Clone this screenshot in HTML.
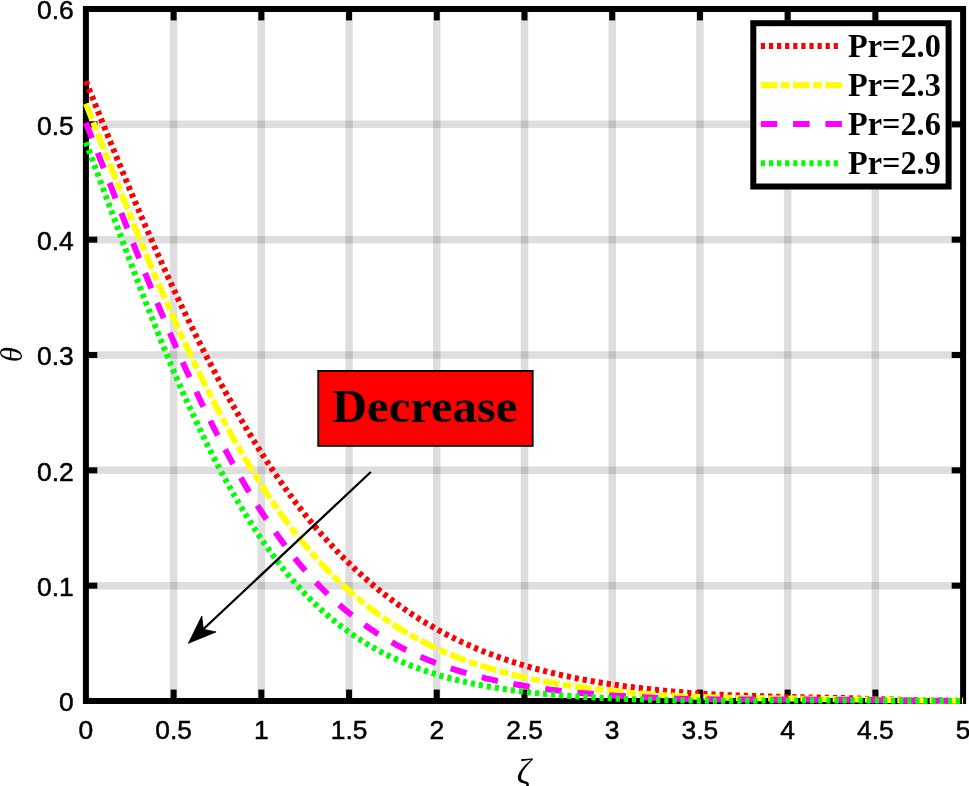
<!DOCTYPE html>
<html lang="en"><head><meta charset="utf-8"><title>Temperature profile for Pr</title>
<style>html,body{margin:0;padding:0;background:#fff;}svg{display:block;}.tk{font-family:"Liberation Sans",Arial,Helvetica,sans-serif;font-size:26.4px;fill:#000;stroke:#000;stroke-width:0.5px;}.lg{font-family:"Liberation Serif","Times New Roman",Times,serif;font-weight:bold;font-size:32.8px;fill:#000;}.dc{font-family:"Liberation Serif","Times New Roman",Times,serif;font-weight:bold;font-size:46.7px;fill:#000;}.ax{font-family:"Liberation Serif","Times New Roman",Times,serif;font-style:italic;font-size:30px;fill:#000;}</style></head><body>
<svg width="969" height="786" viewBox="0 0 969 786">
<rect x="0" y="0" width="969" height="786" fill="#fff"/>
<g stroke="#000" stroke-opacity="0.13" stroke-width="7.5" fill="none">
<line x1="173.62" y1="9.0" x2="173.62" y2="701.0"/>
<line x1="261.34" y1="9.0" x2="261.34" y2="701.0"/>
<line x1="349.06" y1="9.0" x2="349.06" y2="701.0"/>
<line x1="436.78" y1="9.0" x2="436.78" y2="701.0"/>
<line x1="524.50" y1="9.0" x2="524.50" y2="701.0"/>
<line x1="612.22" y1="9.0" x2="612.22" y2="701.0"/>
<line x1="699.94" y1="9.0" x2="699.94" y2="701.0"/>
<line x1="787.66" y1="9.0" x2="787.66" y2="701.0"/>
<line x1="875.38" y1="9.0" x2="875.38" y2="701.0"/>
<line x1="85.9" y1="585.67" x2="963.1" y2="585.67"/>
<line x1="85.9" y1="470.33" x2="963.1" y2="470.33"/>
<line x1="85.9" y1="355.00" x2="963.1" y2="355.00"/>
<line x1="85.9" y1="239.67" x2="963.1" y2="239.67"/>
<line x1="85.9" y1="124.33" x2="963.1" y2="124.33"/>
</g>
<g stroke="#000" stroke-width="6" fill="none">
<line x1="173.62" y1="701.0" x2="173.62" y2="689.6"/>
<line x1="173.62" y1="9.0" x2="173.62" y2="20.4"/>
<line x1="261.34" y1="701.0" x2="261.34" y2="689.6"/>
<line x1="261.34" y1="9.0" x2="261.34" y2="20.4"/>
<line x1="349.06" y1="701.0" x2="349.06" y2="689.6"/>
<line x1="349.06" y1="9.0" x2="349.06" y2="20.4"/>
<line x1="436.78" y1="701.0" x2="436.78" y2="689.6"/>
<line x1="436.78" y1="9.0" x2="436.78" y2="20.4"/>
<line x1="524.50" y1="701.0" x2="524.50" y2="689.6"/>
<line x1="524.50" y1="9.0" x2="524.50" y2="20.4"/>
<line x1="612.22" y1="701.0" x2="612.22" y2="689.6"/>
<line x1="612.22" y1="9.0" x2="612.22" y2="20.4"/>
<line x1="699.94" y1="701.0" x2="699.94" y2="689.6"/>
<line x1="699.94" y1="9.0" x2="699.94" y2="20.4"/>
<line x1="787.66" y1="701.0" x2="787.66" y2="689.6"/>
<line x1="787.66" y1="9.0" x2="787.66" y2="20.4"/>
<line x1="875.38" y1="701.0" x2="875.38" y2="689.6"/>
<line x1="875.38" y1="9.0" x2="875.38" y2="20.4"/>
<line x1="85.9" y1="585.67" x2="97.30000000000001" y2="585.67"/>
<line x1="963.1" y1="585.67" x2="951.7" y2="585.67"/>
<line x1="85.9" y1="470.33" x2="97.30000000000001" y2="470.33"/>
<line x1="963.1" y1="470.33" x2="951.7" y2="470.33"/>
<line x1="85.9" y1="355.00" x2="97.30000000000001" y2="355.00"/>
<line x1="963.1" y1="355.00" x2="951.7" y2="355.00"/>
<line x1="85.9" y1="239.67" x2="97.30000000000001" y2="239.67"/>
<line x1="963.1" y1="239.67" x2="951.7" y2="239.67"/>
<line x1="85.9" y1="124.33" x2="97.30000000000001" y2="124.33"/>
<line x1="963.1" y1="124.33" x2="951.7" y2="124.33"/>
<rect x="85.9" y="9.0" width="877.20" height="692.00"/>
</g>
<g fill="none" stroke-width="6" stroke-linejoin="round">
<path stroke="#ff0000" stroke-dasharray="4.2 3.9" d="M85.9 81.1L89.4 89.9L92.9 98.7L96.4 107.5L99.9 116.2L103.4 124.9L107.0 133.6L110.5 142.3L114.0 150.9L117.5 159.5L121.0 168.0L124.5 176.5L128.0 184.9L131.5 193.3L135.0 201.6L138.5 209.9L142.0 218.1L145.5 226.3L149.1 234.4L152.6 242.4L156.1 250.4L159.6 258.3L163.1 266.1L166.6 273.8L170.1 281.5L173.6 289.1L177.1 296.6L180.6 304.1L184.1 311.4L187.7 318.7L191.2 325.9L194.7 333.0L198.2 340.1L201.7 347.0L205.2 353.9L208.7 360.7L212.2 367.4L215.7 374.0L219.2 380.6L222.7 387.1L226.3 393.5L229.8 399.8L233.3 406.0L236.8 412.2L240.3 418.2L243.8 424.2L247.3 430.1L250.8 435.9L254.3 441.6L257.8 447.3L261.3 452.8L264.8 458.3L268.4 463.7L271.9 469.0L275.4 474.2L278.9 479.3L282.4 484.3L285.9 489.3L289.4 494.1L292.9 498.9L296.4 503.5L299.9 508.1L303.4 512.6L307.0 517.0L310.5 521.3L314.0 525.5L317.5 529.6L321.0 533.7L324.5 537.6L328.0 541.5L331.5 545.3L335.0 549.1L338.5 552.8L342.0 556.4L345.6 559.9L349.1 563.3L352.6 566.7L356.1 570.0L359.6 573.3L363.1 576.5L366.6 579.6L370.1 582.6L373.6 585.6L377.1 588.5L380.6 591.4L384.1 594.1L387.7 596.9L391.2 599.5L394.7 602.2L398.2 604.7L401.7 607.2L405.2 609.6L408.7 612.0L412.2 614.4L415.7 616.6L419.2 618.9L422.7 621.0L426.3 623.2L429.8 625.2L433.3 627.2L436.8 629.2L440.3 631.2L443.8 633.0L447.3 634.9L450.8 636.7L454.3 638.4L457.8 640.1L461.3 641.8L464.9 643.4L468.4 645.0L471.9 646.5L475.4 648.1L478.9 649.5L482.4 651.0L485.9 652.4L489.4 653.7L492.9 655.0L496.4 656.3L499.9 657.6L503.4 658.8L507.0 660.0L510.5 661.2L514.0 662.3L517.5 663.4L521.0 664.5L524.5 665.6L528.0 666.6L531.5 667.6L535.0 668.6L538.5 669.5L542.0 670.4L545.6 671.3L549.1 672.2L552.6 673.0L556.1 673.9L559.6 674.7L563.1 675.4L566.6 676.2L570.1 676.9L573.6 677.7L577.1 678.4L580.6 679.0L584.1 679.7L587.7 680.3L591.2 681.0L594.7 681.6L598.2 682.2L601.7 682.8L605.2 683.3L608.7 683.9L612.2 684.4L615.7 684.9L619.2 685.4L622.7 685.9L626.3 686.4L629.8 686.8L633.3 687.3L636.8 687.7L640.3 688.1L643.8 688.5L647.3 688.9L650.8 689.3L654.3 689.7L657.8 690.1L661.3 690.4L664.9 690.8L668.4 691.1L671.9 691.4L675.4 691.7L678.9 692.0L682.4 692.3L685.9 692.6L689.4 692.9L692.9 693.1L696.4 693.3L699.9 693.6L703.4 693.8L707.0 694.0L710.5 694.2L714.0 694.4L717.5 694.6L721.0 694.7L724.5 694.9L728.0 695.1L731.5 695.2L735.0 695.4L738.5 695.5L742.0 695.6L745.6 695.8L749.1 695.9L752.6 696.0L756.1 696.1L759.6 696.2L763.1 696.3L766.6 696.4L770.1 696.5L773.6 696.6L777.1 696.7L780.6 696.8L784.2 696.9L787.7 696.9L791.2 697.0L794.7 697.1L798.2 697.2L801.7 697.2L805.2 697.3L808.7 697.4L812.2 697.5L815.7 697.5L819.2 697.6L822.7 697.7L826.3 697.8L829.8 697.8L833.3 697.9L836.8 698.0L840.3 698.1L843.8 698.1L847.3 698.2L850.8 698.3L854.3 698.4L857.8 698.5L861.3 698.7L864.9 698.8L868.4 698.9L871.9 699.0L875.4 699.1L878.9 699.2L882.4 699.3L885.9 699.4L889.4 699.5L892.9 699.6L896.4 699.7L899.9 699.8L903.5 699.9L907.0 700.0L910.5 700.1L914.0 700.2L917.5 700.3L921.0 700.3L924.5 700.4L928.0 700.5L931.5 700.5L935.0 700.6L938.5 700.6L942.0 700.6L945.6 700.7L949.1 700.7L952.6 700.7L956.1 700.7L959.6 700.8L963.1 700.8"/>
<path stroke="#ffff00" stroke-dasharray="16.5 3.6 8.7 3.5" d="M85.9 103.6L89.4 112.5L92.9 121.5L96.4 130.4L99.9 139.4L103.4 148.3L107.0 157.2L110.5 166.1L114.0 175.0L117.5 183.9L121.0 192.7L124.5 201.5L128.0 210.2L131.5 218.9L135.0 227.5L138.5 236.1L142.0 244.6L145.5 253.1L149.1 261.5L152.6 269.8L156.1 278.1L159.6 286.3L163.1 294.4L166.6 302.4L170.1 310.4L173.6 318.2L177.1 326.0L180.6 333.7L184.1 341.3L187.7 348.9L191.2 356.3L194.7 363.6L198.2 370.9L201.7 378.0L205.2 385.1L208.7 392.0L212.2 398.9L215.7 405.6L219.2 412.3L222.7 418.9L226.3 425.4L229.8 431.8L233.3 438.1L236.8 444.3L240.3 450.4L243.8 456.4L247.3 462.3L250.8 468.1L254.3 473.8L257.8 479.4L261.3 484.9L264.8 490.3L268.4 495.6L271.9 500.9L275.4 506.0L278.9 511.0L282.4 515.9L285.9 520.7L289.4 525.4L292.9 530.0L296.4 534.5L299.9 538.9L303.4 543.2L307.0 547.4L310.5 551.5L314.0 555.5L317.5 559.4L321.0 563.2L324.5 566.9L328.0 570.6L331.5 574.1L335.0 577.6L338.5 581.0L342.0 584.3L345.6 587.6L349.1 590.7L352.6 593.8L356.1 596.9L359.6 599.8L363.1 602.7L366.6 605.5L370.1 608.2L373.6 610.9L377.1 613.4L380.6 616.0L384.1 618.4L387.7 620.8L391.2 623.2L394.7 625.5L398.2 627.7L401.7 629.8L405.2 632.0L408.7 634.0L412.2 636.0L415.7 637.9L419.2 639.8L422.7 641.7L426.3 643.4L429.8 645.2L433.3 646.9L436.8 648.5L440.3 650.1L443.8 651.7L447.3 653.2L450.8 654.7L454.3 656.1L457.8 657.5L461.3 658.8L464.9 660.1L468.4 661.4L471.9 662.6L475.4 663.8L478.9 665.0L482.4 666.1L485.9 667.2L489.4 668.3L492.9 669.3L496.4 670.3L499.9 671.3L503.4 672.3L507.0 673.2L510.5 674.1L514.0 674.9L517.5 675.8L521.0 676.6L524.5 677.4L528.0 678.2L531.5 678.9L535.0 679.6L538.5 680.3L542.0 681.0L545.6 681.7L549.1 682.3L552.6 682.9L556.1 683.5L559.6 684.1L563.1 684.7L566.6 685.2L570.1 685.7L573.6 686.3L577.1 686.8L580.6 687.2L584.1 687.7L587.7 688.2L591.2 688.6L594.7 689.0L598.2 689.4L601.7 689.8L605.2 690.2L608.7 690.6L612.2 691.0L615.7 691.3L619.2 691.6L622.7 692.0L626.3 692.3L629.8 692.6L633.3 692.9L636.8 693.2L640.3 693.5L643.8 693.8L647.3 694.0L650.8 694.3L654.3 694.5L657.8 694.8L661.3 695.0L664.9 695.2L668.4 695.4L671.9 695.6L675.4 695.8L678.9 696.0L682.4 696.2L685.9 696.4L689.4 696.5L692.9 696.7L696.4 696.8L699.9 696.9L703.4 697.1L707.0 697.2L710.5 697.3L714.0 697.4L717.5 697.5L721.0 697.6L724.5 697.7L728.0 697.8L731.5 697.8L735.0 697.9L738.5 698.0L742.0 698.0L745.6 698.1L749.1 698.1L752.6 698.2L756.1 698.2L759.6 698.3L763.1 698.3L766.6 698.4L770.1 698.4L773.6 698.4L777.1 698.5L780.6 698.5L784.2 698.5L787.7 698.6L791.2 698.6L794.7 698.6L798.2 698.7L801.7 698.7L805.2 698.7L808.7 698.8L812.2 698.8L815.7 698.8L819.2 698.9L822.7 698.9L826.3 698.9L829.8 699.0L833.3 699.0L836.8 699.0L840.3 699.1L843.8 699.1L847.3 699.2L850.8 699.3L854.3 699.3L857.8 699.4L861.3 699.4L864.9 699.5L868.4 699.6L871.9 699.7L875.4 699.7L878.9 699.8L882.4 699.9L885.9 699.9L889.4 700.0L892.9 700.1L896.4 700.1L899.9 700.2L903.5 700.3L907.0 700.3L910.5 700.4L914.0 700.4L917.5 700.5L921.0 700.5L924.5 700.6L928.0 700.6L931.5 700.6L935.0 700.7L938.5 700.7L942.0 700.7L945.6 700.8L949.1 700.8L952.6 700.8L956.1 700.8L959.6 700.8L963.1 700.8"/>
<path stroke="#ff00ff" stroke-dasharray="16.5 15.8" d="M85.9 122.8L89.4 131.6L92.9 140.5L96.4 149.4L99.9 158.3L103.4 167.3L107.0 176.3L110.5 185.3L114.0 194.3L117.5 203.2L121.0 212.2L124.5 221.2L128.0 230.1L131.5 239.0L135.0 247.9L138.5 256.7L142.0 265.5L145.5 274.2L149.1 282.9L152.6 291.5L156.1 300.0L159.6 308.5L163.1 316.8L166.6 325.2L170.1 333.4L173.6 341.5L177.1 349.6L180.6 357.5L184.1 365.4L187.7 373.2L191.2 380.8L194.7 388.4L198.2 395.8L201.7 403.2L205.2 410.4L208.7 417.5L212.2 424.6L215.7 431.5L219.2 438.3L222.7 445.0L226.3 451.6L229.8 458.1L233.3 464.5L236.8 470.8L240.3 476.9L243.8 483.0L247.3 488.9L250.8 494.7L254.3 500.5L257.8 506.1L261.3 511.5L264.8 516.9L268.4 522.2L271.9 527.3L275.4 532.3L278.9 537.2L282.4 542.0L285.9 546.7L289.4 551.3L292.9 555.8L296.4 560.1L299.9 564.3L303.4 568.5L307.0 572.5L310.5 576.4L314.0 580.2L317.5 583.9L321.0 587.5L324.5 591.0L328.0 594.4L331.5 597.7L335.0 600.9L338.5 604.1L342.0 607.1L345.6 610.1L349.1 613.0L352.6 615.8L356.1 618.6L359.6 621.2L363.1 623.8L366.6 626.3L370.1 628.8L373.6 631.1L377.1 633.4L380.6 635.6L384.1 637.8L387.7 639.9L391.2 641.9L394.7 643.9L398.2 645.8L401.7 647.7L405.2 649.5L408.7 651.2L412.2 652.9L415.7 654.6L419.2 656.2L422.7 657.7L426.3 659.2L429.8 660.6L433.3 662.0L436.8 663.4L440.3 664.7L443.8 666.0L447.3 667.2L450.8 668.4L454.3 669.5L457.8 670.6L461.3 671.7L464.9 672.7L468.4 673.7L471.9 674.7L475.4 675.6L478.9 676.6L482.4 677.4L485.9 678.3L489.4 679.1L492.9 679.9L496.4 680.7L499.9 681.4L503.4 682.1L507.0 682.8L510.5 683.5L514.0 684.1L517.5 684.7L521.0 685.3L524.5 685.9L528.0 686.5L531.5 687.0L535.0 687.6L538.5 688.1L542.0 688.5L545.6 689.0L549.1 689.5L552.6 689.9L556.1 690.3L559.6 690.7L563.1 691.1L566.6 691.5L570.1 691.9L573.6 692.2L577.1 692.6L580.6 692.9L584.1 693.2L587.7 693.5L591.2 693.8L594.7 694.1L598.2 694.4L601.7 694.7L605.2 694.9L608.7 695.2L612.2 695.4L615.7 695.7L619.2 695.9L622.7 696.1L626.3 696.3L629.8 696.5L633.3 696.7L636.8 696.9L640.3 697.1L643.8 697.2L647.3 697.4L650.8 697.6L654.3 697.7L657.8 697.9L661.3 698.0L664.9 698.2L668.4 698.3L671.9 698.4L675.4 698.6L678.9 698.7L682.4 698.8L685.9 698.9L689.4 698.9L692.9 699.0L696.4 699.1L699.9 699.2L703.4 699.2L707.0 699.3L710.5 699.3L714.0 699.4L717.5 699.4L721.0 699.5L724.5 699.5L728.0 699.5L731.5 699.6L735.0 699.6L738.5 699.6L742.0 699.6L745.6 699.6L749.1 699.6L752.6 699.6L756.1 699.6L759.6 699.6L763.1 699.7L766.6 699.7L770.1 699.7L773.6 699.7L777.1 699.7L780.6 699.7L784.2 699.6L787.7 699.6L791.2 699.6L794.7 699.6L798.2 699.6L801.7 699.6L805.2 699.6L808.7 699.6L812.2 699.7L815.7 699.7L819.2 699.7L822.7 699.7L826.3 699.7L829.8 699.7L833.3 699.7L836.8 699.7L840.3 699.8L843.8 699.8L847.3 699.8L850.8 699.9L854.3 699.9L857.8 699.9L861.3 700.0L864.9 700.0L868.4 700.1L871.9 700.1L875.4 700.1L878.9 700.2L882.4 700.2L885.9 700.3L889.4 700.3L892.9 700.4L896.4 700.4L899.9 700.4L903.5 700.5L907.0 700.5L910.5 700.5L914.0 700.6L917.5 700.6L921.0 700.6L924.5 700.7L928.0 700.7L931.5 700.7L935.0 700.8L938.5 700.8L942.0 700.8L945.6 700.8L949.1 700.8L952.6 700.8L956.1 700.8L959.6 700.8L963.1 700.9"/>
<path stroke="#00ff00" stroke-dasharray="4.2 3.9" d="M85.9 142.2L89.4 151.6L92.9 161.1L96.4 170.5L99.9 180.0L103.4 189.5L107.0 199.0L110.5 208.5L114.0 218.0L117.5 227.5L121.0 236.9L124.5 246.4L128.0 255.7L131.5 265.0L135.0 274.3L138.5 283.5L142.0 292.6L145.5 301.7L149.1 310.7L152.6 319.6L156.1 328.4L159.6 337.1L163.1 345.7L166.6 354.2L170.1 362.6L173.6 370.9L177.1 379.1L180.6 387.2L184.1 395.2L187.7 403.0L191.2 410.7L194.7 418.3L198.2 425.8L201.7 433.1L205.2 440.4L208.7 447.5L212.2 454.4L215.7 461.3L219.2 468.0L222.7 474.6L226.3 481.1L229.8 487.4L233.3 493.7L236.8 499.8L240.3 505.8L243.8 511.6L247.3 517.3L250.8 522.9L254.3 528.4L257.8 533.8L261.3 539.0L264.8 544.1L268.4 549.1L271.9 553.9L275.4 558.7L278.9 563.3L282.4 567.8L285.9 572.2L289.4 576.4L292.9 580.5L296.4 584.6L299.9 588.4L303.4 592.2L307.0 595.9L310.5 599.5L314.0 602.9L317.5 606.2L321.0 609.5L324.5 612.6L328.0 615.7L331.5 618.7L335.0 621.5L338.5 624.3L342.0 627.0L345.6 629.6L349.1 632.2L352.6 634.6L356.1 637.0L359.6 639.3L363.1 641.6L366.6 643.7L370.1 645.8L373.6 647.8L377.1 649.8L380.6 651.7L384.1 653.5L387.7 655.3L391.2 657.0L394.7 658.6L398.2 660.2L401.7 661.8L405.2 663.3L408.7 664.7L412.2 666.1L415.7 667.4L419.2 668.7L422.7 670.0L426.3 671.2L429.8 672.3L433.3 673.4L436.8 674.5L440.3 675.6L443.8 676.6L447.3 677.5L450.8 678.5L454.3 679.4L457.8 680.2L461.3 681.1L464.9 681.9L468.4 682.7L471.9 683.4L475.4 684.1L478.9 684.8L482.4 685.5L485.9 686.1L489.4 686.7L492.9 687.3L496.4 687.9L499.9 688.5L503.4 689.0L507.0 689.5L510.5 690.0L514.0 690.5L517.5 690.9L521.0 691.4L524.5 691.8L528.0 692.2L531.5 692.6L535.0 693.0L538.5 693.3L542.0 693.7L545.6 694.0L549.1 694.3L552.6 694.6L556.1 694.9L559.6 695.2L563.1 695.5L566.6 695.7L570.1 696.0L573.6 696.2L577.1 696.5L580.6 696.7L584.1 696.9L587.7 697.1L591.2 697.3L594.7 697.5L598.2 697.7L601.7 697.9L605.2 698.1L608.7 698.2L612.2 698.4L615.7 698.5L619.2 698.7L622.7 698.8L626.3 699.0L629.8 699.1L633.3 699.2L636.8 699.3L640.3 699.5L643.8 699.6L647.3 699.7L650.8 699.8L654.3 699.9L657.8 700.0L661.3 700.1L664.9 700.2L668.4 700.2L671.9 700.3L675.4 700.4L678.9 700.4L682.4 700.5L685.9 700.6L689.4 700.6L692.9 700.6L696.4 700.7L699.9 700.7L703.4 700.7L707.0 700.7L710.5 700.8L714.0 700.8L717.5 700.8L721.0 700.8L724.5 700.8L728.0 700.8L731.5 700.8L735.0 700.8L738.5 700.8L742.0 700.7L745.6 700.7L749.1 700.7L752.6 700.7L756.1 700.7L759.6 700.7L763.1 700.6L766.6 700.6L770.1 700.6L773.6 700.6L777.1 700.6L780.6 700.5L784.2 700.5L787.7 700.5L791.2 700.5L794.7 700.5L798.2 700.4L801.7 700.4L805.2 700.4L808.7 700.4L812.2 700.4L815.7 700.4L819.2 700.4L822.7 700.4L826.3 700.4L829.8 700.4L833.3 700.4L836.8 700.4L840.3 700.4L843.8 700.4L847.3 700.4L850.8 700.4L854.3 700.5L857.8 700.5L861.3 700.5L864.9 700.5L868.4 700.5L871.9 700.6L875.4 700.6L878.9 700.6L882.4 700.6L885.9 700.7L889.4 700.7L892.9 700.7L896.4 700.7L899.9 700.7L903.5 700.8L907.0 700.8L910.5 700.8L914.0 700.8L917.5 700.8L921.0 700.8L924.5 700.8L928.0 700.9L931.5 700.9L935.0 700.9L938.5 700.9L942.0 700.9L945.6 700.9L949.1 700.9L952.6 700.9L956.1 700.9L959.6 700.9L963.1 700.9"/>
</g>
<g class="tk" text-anchor="middle">
<text x="85.9" y="739.3">0</text>
<text x="173.6" y="739.3">0.5</text>
<text x="261.3" y="739.3">1</text>
<text x="349.1" y="739.3">1.5</text>
<text x="436.8" y="739.3">2</text>
<text x="524.5" y="739.3">2.5</text>
<text x="612.2" y="739.3">3</text>
<text x="699.9" y="739.3">3.5</text>
<text x="787.7" y="739.3">4</text>
<text x="875.4" y="739.3">4.5</text>
<text x="963.1" y="739.3">5</text>
</g>
<g class="tk" text-anchor="end">
<text x="73.8" y="711.3">0</text>
<text x="73.8" y="596.0">0.1</text>
<text x="73.8" y="480.6">0.2</text>
<text x="73.8" y="365.3">0.3</text>
<text x="73.8" y="250.0">0.4</text>
<text x="73.8" y="134.6">0.5</text>
<text x="73.8" y="19.3">0.6</text>
</g>
<text class="ax" style="font-size:35px" text-anchor="middle" x="523.9" y="783.9">ζ</text>
<text class="ax" style="font-size:31px" text-anchor="middle" transform="translate(22.3,354.7) rotate(-90)">θ</text>
<rect x="753.3" y="23.2" width="195.3" height="163.3" fill="#fff" stroke="#000" stroke-width="6"/>
<line x1="760.8" y1="45.9" x2="838.5" y2="45.9" stroke="#ff0000" stroke-width="6" stroke-dasharray="4.2 3.9"/>
<text class="lg" x="848" y="56.5" textLength="92.8" lengthAdjust="spacingAndGlyphs">Pr=2.0</text>
<line x1="760.8" y1="85.0" x2="842.1" y2="85.0" stroke="#ffff00" stroke-width="6" stroke-dasharray="16.5 3.6 8.7 3.5"/>
<text class="lg" x="848" y="95.6" textLength="92.8" lengthAdjust="spacingAndGlyphs">Pr=2.3</text>
<line x1="760.8" y1="124.1" x2="842.1" y2="124.1" stroke="#ff00ff" stroke-width="6" stroke-dasharray="16.5 15.8"/>
<text class="lg" x="848" y="134.7" textLength="92.8" lengthAdjust="spacingAndGlyphs">Pr=2.6</text>
<line x1="760.8" y1="163.3" x2="838.5" y2="163.3" stroke="#00ff00" stroke-width="6" stroke-dasharray="4.2 3.9"/>
<text class="lg" x="848" y="173.9" textLength="92.8" lengthAdjust="spacingAndGlyphs">Pr=2.9</text>
<rect x="318.2" y="370.9" width="214.5" height="75" fill="#ff0000" stroke="#000" stroke-width="1.8"/>
<text class="dc" x="332" y="422" textLength="185.2" lengthAdjust="spacingAndGlyphs">Decrease</text>
<line x1="370.8" y1="472" x2="203" y2="629.5" stroke="#000" stroke-width="2.3"/>
<polygon points="188.4,643.3 201.8,616 203.3,629.3 216.1,631.9" fill="#000" stroke="#000" stroke-width="0.8" stroke-linejoin="round"/>
</svg></body></html>
